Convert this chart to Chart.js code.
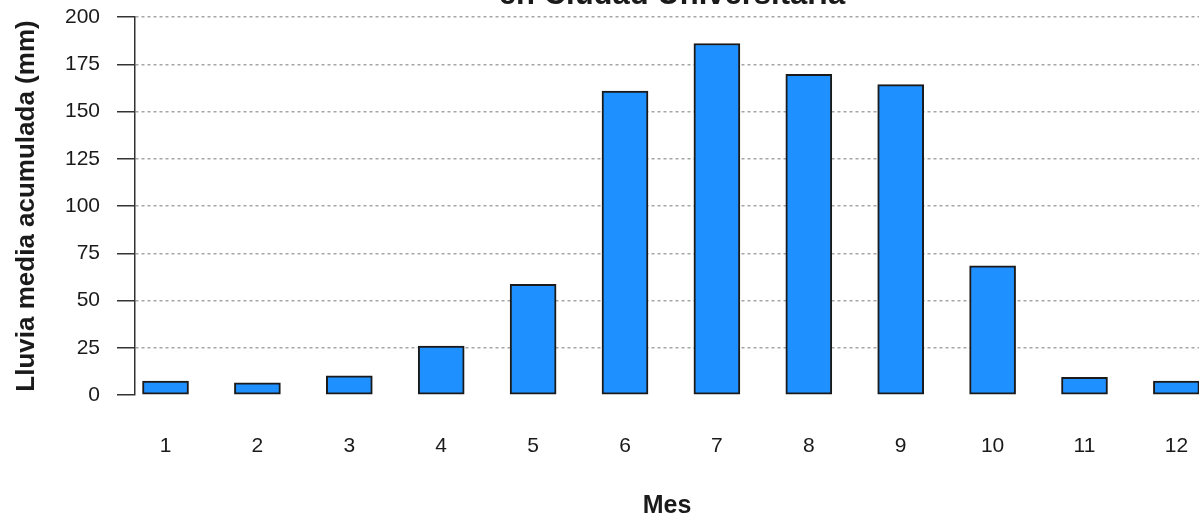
<!DOCTYPE html>
<html>
<head>
<meta charset="utf-8">
<script src="https://cdn.jsdelivr.net/npm/chart.js@4/dist/chart.umd.min.js"></script>
<style>
  html, body { margin: 0; padding: 0; background: #fff; overflow: hidden; }
  #wrap { width: 1199px; height: 521px; position: relative; }
</style>
</head>
<body>
<div id="wrap"><canvas id="chart"></canvas></div>
<script>
const months = [1, 2, 3, 4, 5, 6, 7, 8, 9, 10, 11, 12];
const rain = [7.4, 6.5, 10.2, 25.9, 58.6, 160.8, 186, 169.7, 164.2, 68.4, 9.4, 7.4];
const yTicks = [0, 25, 50, 75, 100, 125, 150, 175, 200];

const titleText = "en Ciudad Universitaria";
const yTitle = "Lluvia media acumulada (mm)";
const xTitle = "Mes";

const FONT = "'Liberation Sans', Arial, sans-serif";

// the title sits mostly above the top edge of the picture
const cutTitle = {
  id: "cutTitle",
  afterDraw(chart) {
    const c = chart.ctx;
    c.save();
    c.font = "bold 31px " + FONT;
    c.fillStyle = "#1a1a1a";
    c.textAlign = "center";
    c.textBaseline = "alphabetic";
    c.fillText(titleText, 672, 4);
    c.restore();
  },
};

new Chart(document.getElementById("chart"), {
  type: "bar",
  data: {
    datasets: [{
      data: months.map((m, i) => ({ x: m, y: rain[i] })),
      backgroundColor: "#1E90FF",
      borderColor: "#1a1a1a",
      borderWidth: 2,
      borderSkipped: false,
      barThickness: 46,
    }],
  },
  options: {
    responsive: true,
    maintainAspectRatio: false,
    animation: false,
    layout: { padding: { top: 17, right: 0, left: 0, bottom: 0 } },
    plugins: { legend: { display: false }, tooltip: { enabled: false } },
    scales: {
      x: {
        type: "linear",
        offset: false,
        min: 0.668,
        max: 12.246,
        afterFit: s => {
          s.height = 126;
          s.paddingLeft = 0;
          s.paddingRight = 0;
        },
        afterBuildTicks: s => { s.ticks = months.map(v => ({ value: v })); },
        grid: { display: false, drawTicks: false },
        border: { display: false },
        ticks: {
          padding: 39,
          color: "#1a1a1a",
          font: { family: FONT, size: 21 },
          maxRotation: 0,
          autoSkip: false,
        },
        title: {
          display: true,
          text: xTitle,
          color: "#1a1a1a",
          font: { family: FONT, size: 25, weight: "bold" },
          padding: { top: 0, bottom: 0 },
        },
      },
      y: {
        min: 0,
        max: 200,
        afterFit: s => {
          s.width = 135;
          s.paddingTop = 0;
          s.paddingBottom = 0;
        },
        afterBuildTicks: s => { s.ticks = yTicks.map(v => ({ value: v })); },
        grid: {
          color: c => (c.tick && c.tick.value === 0 ? "rgba(0,0,0,0)" : "#a6a6a6"),
          lineWidth: 1.5,
          tickColor: "#333",
          tickWidth: 1.5,
          tickBorderDash: [],
          tickLength: 18,
        },
        border: { display: true, color: "#333", width: 1.5, dash: [3, 3] },
        ticks: {
          padding: 17,
          color: "#1a1a1a",
          font: { family: FONT, size: 21 },
        },
        title: {
          display: true,
          text: yTitle,
          color: "#1a1a1a",
          font: { family: FONT, size: 26, weight: "bold" },
          padding: { top: 11, bottom: 0 },
        },
      },
    },
  },
  plugins: [cutTitle],
});
</script>
</body>
</html>
